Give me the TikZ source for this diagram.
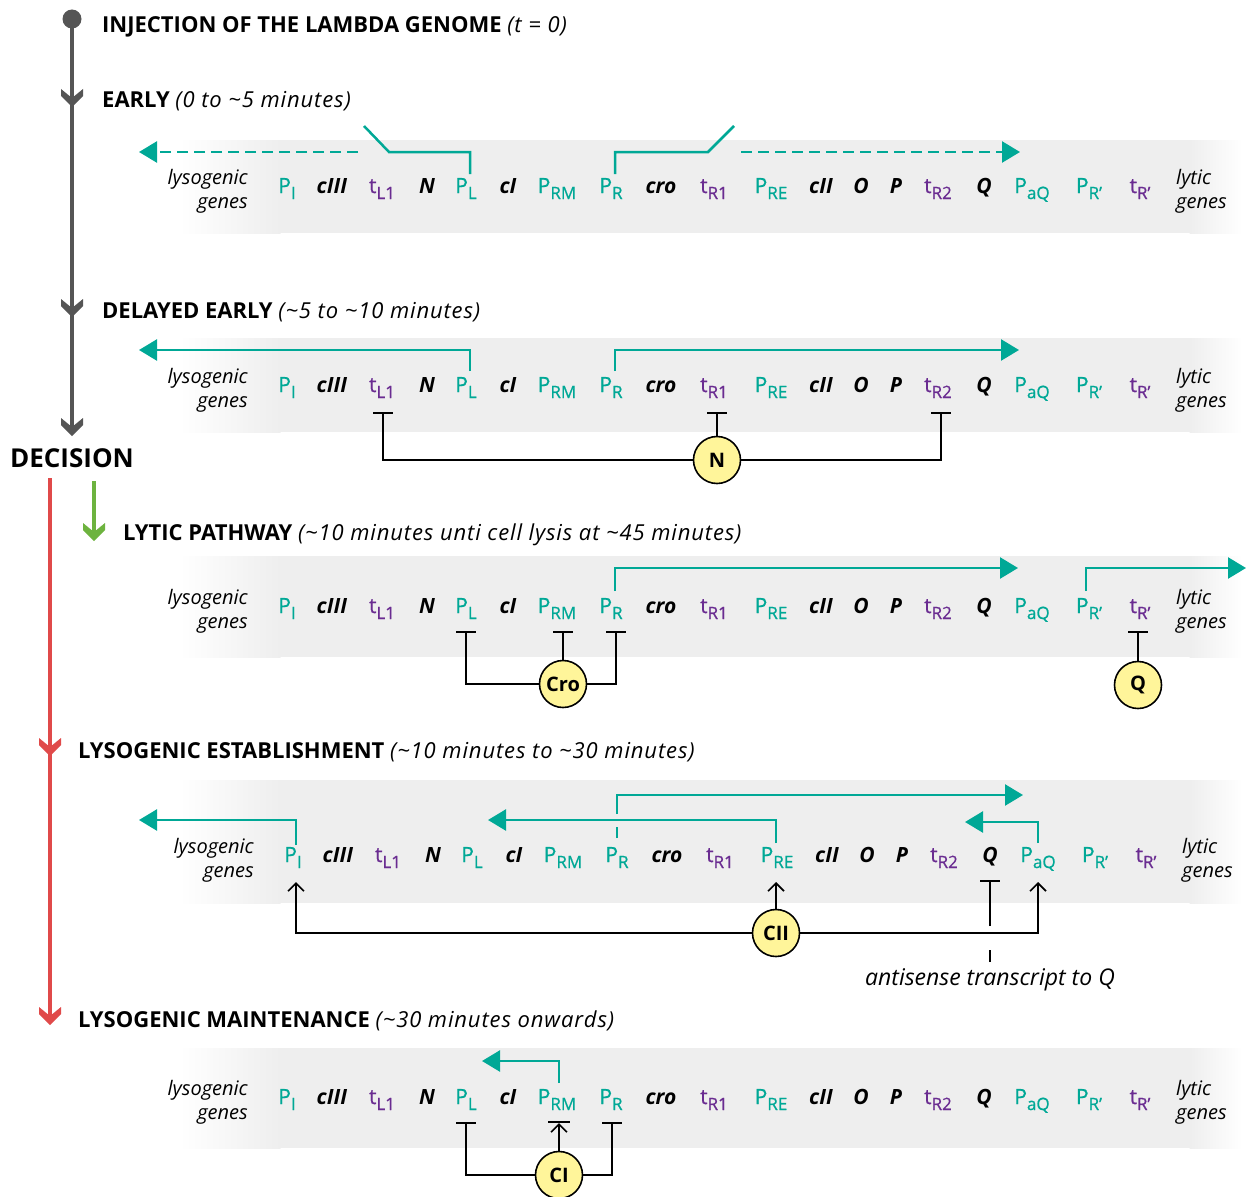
\documentclass[tikz,border=0pt]{standalone}
\usepackage{fontspec}
\setmainfont{Open Sans}
\newfontfamily\gfont{Open Sans}[FakeBold=0.8]
\usetikzlibrary{arrows.meta}
\definecolor{tealc}{HTML}{00A896}
\definecolor{purpc}{HTML}{6A2C91}
\definecolor{bandc}{HTML}{EEEEEE}
\definecolor{circc}{HTML}{FFF59A}
\definecolor{tlinec}{HTML}{555555}
\definecolor{redc}{HTML}{E04A4A}
\definecolor{greenc}{HTML}{6DB33F}
\newcommand\tild{\textasciitilde}
\newcommand\ttit[1]{{\normalfont\itshape\addfontfeatures{LetterSpace=4}#1}}
\newcommand\gsub[1]{\raisebox{-6pt}{\fontsize{17}{17}\selectfont #1}}
\newcommand\gP[1]{\textcolor{tealc}{\gfont P\gsub{#1}}}
\newcommand\gT[1]{\textcolor{purpc}{\gfont t\gsub{#1}}}
\newcommand\gG[1]{\textbf{\textit{#1}}}
\newcommand\gband[2]{%
  \fill[bandc] (280,#1) rectangle (1190,#2);
  \shade[left color=white,right color=bandc] (180,#1) rectangle (280.5,#2);
  \shade[left color=bandc,right color=white] (1189.5,#1) rectangle (1242,#2);}
\newcommand\chev[3]{%
  \fill[#3] ({#1-11},{#2-18}) -- (#1,{#2-9}) -- ({#1+11},{#2-18}) -- ({#1+11},{#2-11}) -- (#1,#2) -- ({#1-11},{#2-11}) -- cycle;}
\newcommand\generow[3]{%
  \foreach \nm/\xx/\txt in {PI/287/{\gP{I}}, cIII/332/{\gG{cIII}}, tLa/382/{\gT{L1}}, N/427/{\gG{N}}, PL/466/{\gP{L}}, cI/508/{\gG{cI}}, PRM/557/{\gP{RM}}, PR/611/{\gP{R}}, cro/661/{\gG{cro}}, tRa/714/{\gT{R1}}, PRE/771/{\gP{RE}}, cII/821/{\gG{cII}}, O/861/{\gG{O}}, P/896/{\gG{P}}, tRb/938/{\gT{R2}}, Q/984/{\gG{Q}}, PaQ/1032/{\gP{aQ}}, PRp/1089/{\gP{R’}}, tRp/1140/{\gT{R’}}}{%
    \node[gene] (#1\nm) at ({\xx+#3},#2) {\txt};}
  \node[lbl,anchor=base east] (#1lys) at ({248+#3},{#2-9}) {lysogenic};
  \node[lbl,anchor=base east] (#1lysg) at ({248+#3},{#2+15}) {genes};
  \node[lbl,anchor=base west] (#1lyt) at ({1176+#3},{#2-9}) {lytic};
  \node[lbl,anchor=base west] (#1lytg) at ({1176+#3},{#2+15}) {genes};}
\begin{document}
\begin{tikzpicture}[x=1pt,y=-1pt,
  gene/.style={inner sep=0pt,anchor=base,font=\fontsize{21}{21}\selectfont},
  lbl/.style={inner sep=0pt,font=\fontsize{20}{20}\selectfont\itshape},
  ttl/.style={inner sep=0pt,anchor=base west,font=\fontsize{22}{22}\selectfont\bfseries},
  tarrow/.style={tealc,line width=2.5pt,-{Triangle[length=18pt,width=21pt]}},
  tline/.style={tealc,line width=2.5pt},
  dsh/.style={dash pattern=on 11pt off 6pt},
  conn/.style={black,line width=1.6pt},
  inh/.style={conn,-{Bar[width=20pt]}},
  act/.style={conn,-{Straight Barb[length=8pt,width=16pt]}},
  prot/.style={circle,draw=black,fill=circc,line width=1.6pt,minimum size=47pt,inner sep=0pt,font=\fontsize{20}{20}\selectfont\bfseries},
  tstem/.style={line width=4.5pt}]
\useasboundingbox (0,0) rectangle (1249,1196);
% bands
\gband{140}{233}
\gband{338}{432}
\gband{556}{657}
\gband{780}{903}
\gband{1048}{1148}
% timeline
\fill[tlinec] (72,19) circle (9.5);
\draw[tlinec,tstem] (72,19) -- (72,428);
\chev{72}{107}{tlinec}
\chev{72}{317}{tlinec}
\chev{72}{436}{tlinec}
\node[inner sep=0pt,anchor=base,font=\fontsize{26}{26}\selectfont\bfseries] (dec) at (72,467) {DECISION};
\draw[redc,line width=4pt] (50,478) -- (50,1018);
\chev{50}{756}{redc}
\chev{50}{1025}{redc}
\draw[greenc,line width=4pt] (94,481) -- (94,533);
\chev{94}{541}{greenc}
% titles
\node[ttl] (t0) at (102,33) {INJECTION OF THE LAMBDA GENOME \ttit{(t = 0)}};
\node[ttl] (t1) at (102,107) {EARLY \ttit{(0 to \tild5 minutes)}};
\node[ttl] (t2) at (102,318) {DELAYED EARLY \ttit{(\tild5 to \tild10 minutes)}};
\node[ttl] (t3) at (123,540) {LYTIC PATHWAY \ttit{(\tild10 minutes unti cell lysis at \tild45 minutes)}};
\node[ttl] (t4) at (78,758) {LYSOGENIC ESTABLISHMENT \ttit{(\tild10 minutes to \tild30 minutes)}};
\node[ttl] (t5) at (78,1027) {LYSOGENIC MAINTENANCE \ttit{(\tild30 minutes onwards)}};
% gene rows
\generow{a}{193}{0}
\generow{b}{392}{0}
\generow{c}{613}{0}
\generow{d}{862}{6}
\generow{e}{1104}{0}
% row 1 early
\draw[tarrow,dsh] (358,152) -- (139,152);
\draw[tline] (364,126) -- (389,152) -- (470,152) -- (470,174);
\draw[tline] (615,174) -- (615,152) -- (708,152) -- (734,126);
\draw[tarrow,dsh] (741,152) -- (1020,152);
% row 2 delayed early
\draw[tarrow] (470,371) -- (470,350) -- (139,350);
\draw[tarrow] (615,371) -- (615,350) -- (1019,350);
\node[prot] (pN) at (717,460) {N};
\draw[inh] (pN.west) -| (383,412);
\draw[inh] (pN.north) -- (717,412);
\draw[inh] (pN.east) -| (941,412);
% row 3 lytic
\draw[tarrow] (615,591) -- (615,568) -- (1018,568);
\draw[tarrow] (1086,591) -- (1086,568) -- (1246,568);
\node[prot] (pCro) at (563,684) {Cro};
\draw[inh] (pCro.west) -| (466,631);
\draw[inh] (pCro.north) -- (563,631);
\draw[inh] (pCro.east) -| (616,631);
\node[prot] (pQ) at (1138,685) {Q};
\draw[inh] (pQ.north) -- (1138,631);
% row 4 lysogenic establishment
\draw[tarrow] (296,845) -- (296,820) -- (139,820);
\draw[tarrow] (776,843) -- (776,820) -- (488,820);
\draw[tline] (617,838) -- (617,827);
\draw[tarrow] (617,814) -- (617,795) -- (1023,795);
\draw[tarrow] (1038,843) -- (1038,822) -- (965,822);
\node[prot] (pCII) at (776,933) {CII};
\draw[act] (pCII.west) -| (296,882);
\draw[act] (pCII.north) -- (776,882);
\draw[act] (pCII.east) -| (1038,882);
\node[inner sep=0pt,anchor=base,font=\fontsize{23}{23}\selectfont\itshape] (anti) at (990,985) {antisense transcript to Q};
\draw[inh] (990,926) -- (990,880);
\draw[conn] (anti.north |- 0,962) -- (990,950);
% row 5 lysogenic maintenance
\draw[tarrow] (559,1083) -- (559,1061) -- (482,1061);
\node[prot] (pCI) at (559,1175) {CI};
\draw[inh] (pCI.west) -| (466,1122);
\draw[inh] (pCI.east) -| (612,1122);
\draw[act] (pCI.north) -- (559,1123);
\draw[conn] (548,1122) -- (570,1122);
\end{tikzpicture}
\end{document}
